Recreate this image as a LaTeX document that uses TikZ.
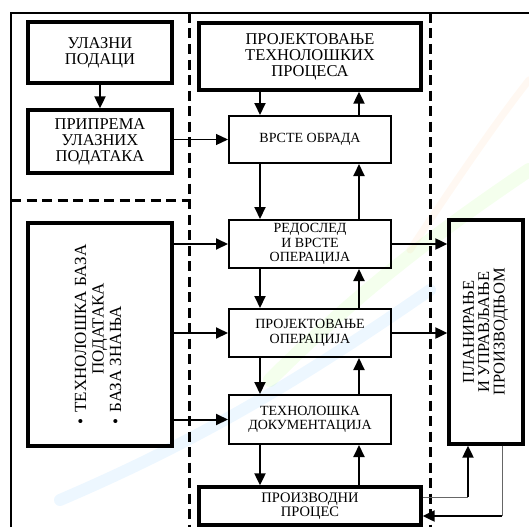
\documentclass[tikz,border=0pt]{standalone}
\usepackage{fontspec}
\setmainfont{Liberation Serif}
\usetikzlibrary{arrows.meta}
\tikzset{
  bigbox/.style={draw, line width=3.3pt, inner sep=0pt, align=center, font=\fontsize{16.5}{16}\selectfont},
  midbox/.style={draw, line width=2pt, inner sep=0pt, align=center, font=\fontsize{14}{14.5}\selectfont},
  arr/.style={line width=2pt, -{Triangle[length=12pt,width=11pt]}},
  thinarr/.style={line width=1.2pt, -{Triangle[length=12pt,width=11pt]}},
  thinline/.style={line width=1pt, draw=black!60},
  frameline/.style={line width=2pt},
  dashline/.style={line width=3pt, dash pattern=on 10pt off 5.5pt},
  swoosh/.style={line cap=round, opacity=0.07}
}
\begin{document}
\begin{tikzpicture}[x=1pt,y=-1pt]
\useasboundingbox (0,0) rectangle (529,527);
\fill[white] (0,0) rectangle (529,527);
% faint background swooshes
\draw[swoosh, line width=14pt, green!60!yellow] (529,170) .. controls (440,230) and (360,290) .. (270,380);
\draw[swoosh, line width=7pt, orange!70] (529,80) .. controls (490,130) and (450,190) .. (410,250);
\draw[swoosh, line width=12pt, blue!40!cyan] (60,500) .. controls (200,440) and (300,380) .. (430,290);
% frame
\draw[frameline] (11,527) -- (11,13) -- (529,13);
\draw[dashline] (189,13) -- (189,527);
\draw[dashline] (430,13) -- (430,527);
\draw[dashline] (11,200) -- (189,200);
% boxes
\node[bigbox, minimum width=144pt, minimum height=61pt] (ulazni) at (100,52.5) {УЛАЗНИ\\ПОДАЦИ};
\node[bigbox, minimum width=144pt, minimum height=63pt] (priprema) at (100,141.5) {ПРИПРЕМА\\УЛАЗНИХ\\ПОДАТАКА};
\node[bigbox, minimum width=222pt, minimum height=67pt] (ptp) at (310,56.5) {ПРОЈЕКТОВАЊЕ\\ТЕХНОЛОШКИХ\\ПРОЦЕСА};
\node[midbox, minimum width=162pt, minimum height=47pt] (vo) at (310,139.5) {ВРСТЕ ОБРАДА};
\node[midbox, minimum width=162pt, minimum height=48pt] (rvo) at (310,244) {РЕДОСЛЕД\\И ВРСТЕ\\ОПЕРАЦИЈА};
\node[midbox, minimum width=162pt, minimum height=48pt] (po) at (310,333) {ПРОЈЕКТОВАЊЕ\\ОПЕРАЦИЈА};
\node[midbox, minimum width=162pt, minimum height=49pt] (td) at (310,419.5) {ТЕХНОЛОШКА\\ДОКУМЕНТАЦИЈА};
\node[bigbox, minimum width=222pt, minimum height=38pt, font=\fontsize{14.5}{14.5}\selectfont] (pp) at (310,506) {ПРОИЗВОДНИ\\ПРОЦЕС};
\node[bigbox, minimum width=144pt, minimum height=223pt, font=\fontsize{17}{17.5}\selectfont] (baza) at (100,334.5)
  {\rotatebox{90}{\begin{tabular}{@{}l@{\hspace{6pt}}l@{}}
   • & \begin{tabular}[t]{@{}c@{}}ТЕХНОЛОШКА БАЗА\\ПОДАТАКА\end{tabular}\\[5pt]
   • & БАЗА ЗНАЊА
   \end{tabular}}};
\node[bigbox, minimum width=74pt, minimum height=224pt, font=\fontsize{16.5}{15}\selectfont] (plan) at (486,332)
  {\rotatebox{90}{\begin{tabular}{@{}c@{}}ПЛАНИРАЊЕ\\И УПРАВЉАЊЕ\\ПРОИЗВОДЊОМ\end{tabular}}};
% helper coordinates
\coordinate (xd) at (260,0);
\coordinate (xu) at (359,0);
\coordinate (c1) at (468,497);
\coordinate (c2) at (502,516);
% connectors
\draw[arr] (ulazni) -- (priprema);
\draw[thinarr] (priprema.east|-vo.west) -- (vo.west);
\draw[arr] (ptp.south-|xd) -- (vo.north-|xd);
\draw[arr] (vo.north-|xu) -- (ptp.south-|xu);
\draw[arr] (vo.south-|xd) -- (rvo.north-|xd);
\draw[arr] (rvo.north-|xu) -- (vo.south-|xu);
\draw[arr] (rvo.south-|xd) -- (po.north-|xd);
\draw[arr] (po.north-|xu) -- (rvo.south-|xu);
\draw[arr] (po.south-|xd) -- (td.north-|xd);
\draw[arr] (td.north-|xu) -- (po.south-|xu);
\draw[arr] (td.south-|xd) -- (pp.north-|xd);
\draw[arr] (pp.north-|xu) -- (td.south-|xu);
\draw[arr] (rvo.west-|baza.east) -- (rvo.west);
\draw[arr] (po.west-|baza.east) -- (po.west);
\draw[arr] (td.west-|baza.east) -- (td.west);
\draw[arr] (rvo.east) -- (rvo.east-|plan.west);
\draw[arr] (po.east) -- (po.east-|plan.west);
\draw[thinline] (pp.east|-c1) -- (c1);
\draw[arr] (c1) -- (c1|-plan.south);
\draw[thinline] (plan.south-|c2) -- (c2);
\draw[arr] (c2) -- (c2-|pp.east);
\end{tikzpicture}
\end{document}
